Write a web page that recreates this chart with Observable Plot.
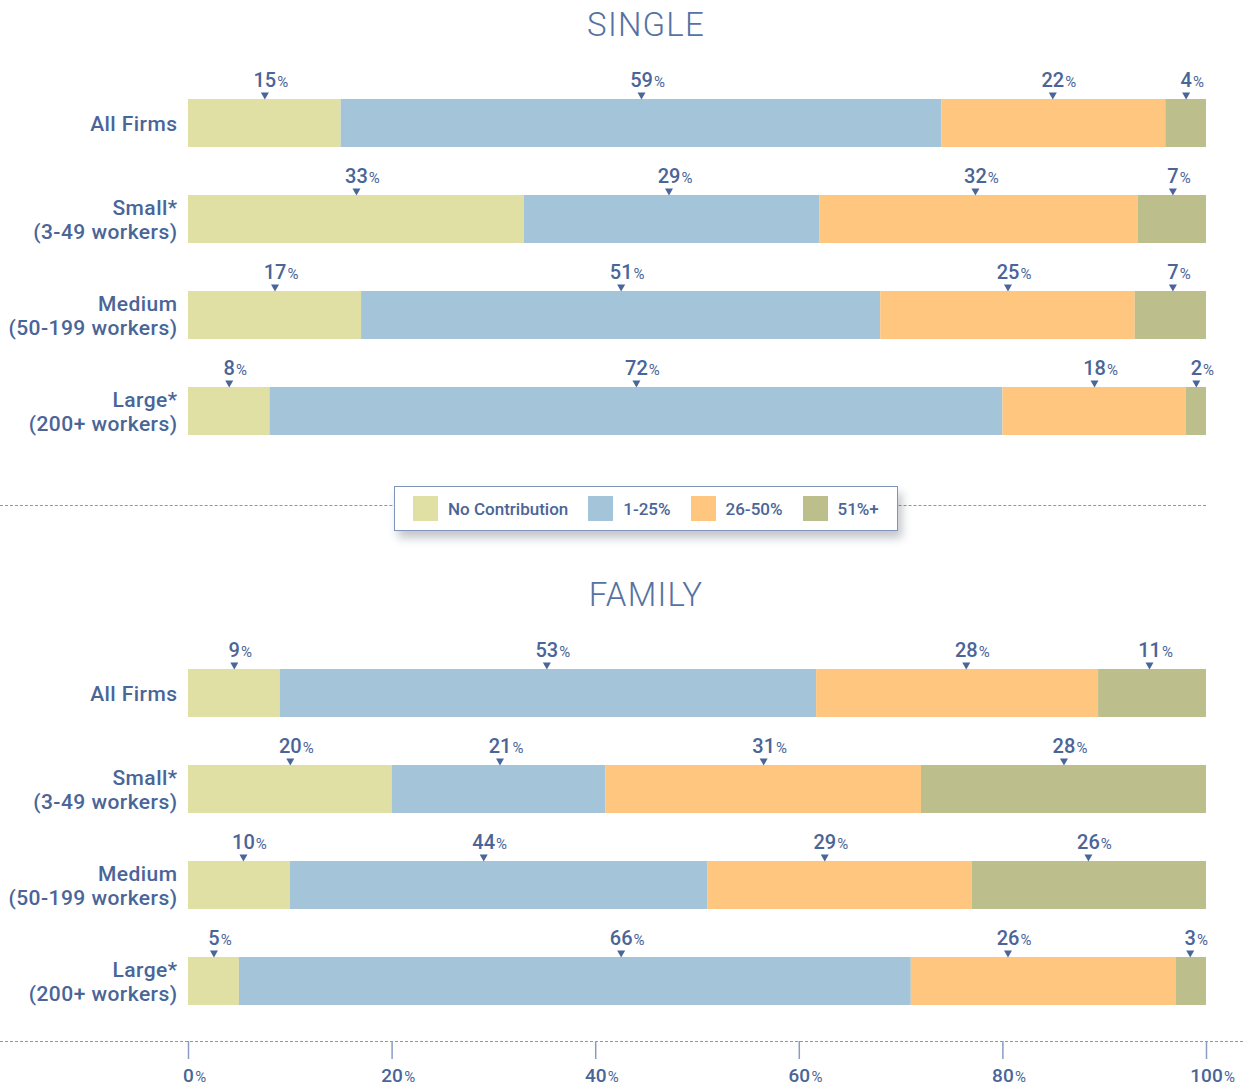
<!DOCTYPE html>
<html>
<head>
<meta charset="utf-8">
<script src="https://cdn.jsdelivr.net/npm/d3@7"></script>
<script src="https://cdn.jsdelivr.net/npm/@observablehq/plot@0.6"></script>
<style>
  body { margin: 0; background: #fff; font-family: Roboto, "Noto Sans", sans-serif; }
  #wrap { position: relative; width: 1243px; height: 1086px; overflow: hidden; background: #fff; }
  .panel { position: absolute; left: 0; }
  .panel g[aria-label="y-axis tick label"] text { letter-spacing: 0.45px; }
  .title { position: absolute; transform: translateX(-50%); font-size: 33px; font-weight: 300;
           letter-spacing: 1.2px; color: #5672a2; line-height: 33px; white-space: nowrap; }
  .dash { position: absolute; height: 0; border-top: 1px dashed #8797b8; }
  #legend { position: absolute; left: 394px; top: 486px; width: 504px; height: 45px; box-sizing: border-box;
            background: #fff; border: 1px solid #7f93bb; box-shadow: 4px 7px 9px rgba(40,50,70,0.28);
            display: flex; align-items: center; padding-left: 18px; }
  .item { display: flex; align-items: center; margin-right: 20px; }
  .sw { width: 25px; height: 25px; margin-right: 10px; }
  .lt { font-size: 17px; font-weight: 500; color: #4a6597; white-space: nowrap; }
</style>
</head>
<body>
<div id="wrap"></div>
<script>
// ---------- data ----------
const categories = ["All Firms", "Small*\n(3-49 workers)", "Medium\n(50-199 workers)", "Large*\n(200+ workers)"];
const levels = ["No Contribution", "1-25%", "26-50%", "51%+"];
const colors = ["#e1e0a4", "#a4c4da", "#fec67e", "#bcbf8c"];
const panels = ["SINGLE", "FAMILY"];
// segment widths as drawn (percent of workers), per category, in level order
const singleValues = [[15, 59, 22, 4], [33, 29, 31.3, 6.7], [17, 51, 25, 7], [8, 72, 18, 2]];
const familyValues = [[9, 52.7, 27.7, 10.6], [20, 21, 31, 28], [10, 41, 26, 23], [5, 66, 26, 3]];
// printed labels
const singleLabels = [[15, 59, 22, 4], [33, 29, 32, 7], [17, 51, 25, 7], [8, 72, 18, 2]];
const familyLabels = [[9, 53, 28, 11], [20, 21, 31, 28], [10, 44, 29, 26], [5, 66, 26, 3]];
// where each label's marker sits on the 0-100 axis
const singleMarkerAt = [[7.5, 44.5, 84.9, 98.0], [16.5, 47.2, 77.3, 96.7], [8.5, 42.5, 80.5, 96.7], [4.0, 44.0, 89.0, 99.0]];
const familyMarkerAt = [[4.5, 35.2, 76.4, 94.4], [10.0, 30.6, 56.5, 86.0], [5.4, 29.0, 62.5, 88.4], [2.5, 42.5, 80.5, 98.4]];
const xTicks = [0, 20, 40, 60, 80, 100];

const textColor = "#4a6597";
const tickColor = "#8a9cc2";
const W = 1243;

const downTri = {
  draw(ctx) { ctx.moveTo(-4, -3.5); ctx.lineTo(4, -3.5); ctx.lineTo(0, 3.5); ctx.closePath(); }
};

function buildRows(values, labels, at) {
  const rows = [];
  categories.forEach((c, i) => levels.forEach((l, j) =>
    rows.push({category: c, level: l, value: values[i][j], label: labels[i][j], at: at[i][j]})));
  return rows;
}

function panelPlot(values, labels, at, withAxis) {
  const rows = buildRows(values, labels, at);
  const labelStyle = {x: "at", y: "category", dy: -37, lineAnchor: "bottom", fill: textColor};
  const marks = [
    Plot.barX(rows, Plot.stackX({x: "value", y: "category", fill: "level", order: levels})),
    Plot.dot(rows, {x: "at", y: "category", symbol: downTri, r: 4, fill: textColor, stroke: null, dy: -27.5}),
    Plot.text(rows, {text: d => String(d.label), fontSize: 20, fontWeight: 500, ...labelStyle}),
    ...[1, 2, 3].map(n => Plot.text(rows.filter(d => String(d.label).length === n),
      {text: () => "%", textAnchor: "start", dx: n * 5.6 + 1.2, fontSize: 15, ...labelStyle})),
    Plot.axisY({tickSize: 0, tickPadding: 11, fontSize: 21, fontWeight: 500, lineHeight: 1.15,
                color: textColor, label: null})
  ];
  if (withAxis) {
    marks.push(
      Plot.axisX({ticks: xTicks, tickSize: 18, tickPadding: 9, stroke: tickColor, strokeWidth: 1.5,
                  fill: textColor, fontSize: 19, fontWeight: 500, tickFormat: d => String(d), label: null}),
      ...[1, 2, 3].map(n => Plot.text(xTicks.filter(t => String(t).length === n), {
        x: d => d, text: () => "%", frameAnchor: "bottom", lineAnchor: "bottom", dy: 40.5,
        dx: n * 5.3 + 1.5, textAnchor: "start", fontSize: 15, fill: textColor}))
    );
  }
  return Plot.plot({
    width: W,
    height: withAxis ? 516 : 470,
    marginLeft: 188,
    marginRight: 37,
    marginTop: 75,
    marginBottom: withAxis ? 45 : 11,
    style: {fontFamily: "Roboto, 'Noto Sans', sans-serif", background: "transparent", overflow: "visible"},
    x: {domain: [0, 100], axis: withAxis ? undefined : null},
    y: {domain: categories, paddingInner: 0.5, paddingOuter: 0.25, insetBottom: withAxis ? 12 : 0},
    color: {domain: levels, range: colors},
    marks
  });
}

const wrap = document.getElementById("wrap");

// dashed separators
const mid = document.createElement("div");
mid.className = "dash"; mid.style.left = "0px"; mid.style.width = "1206px"; mid.style.top = "505px";
wrap.appendChild(mid);
const bot = document.createElement("div");
bot.className = "dash"; bot.style.left = "0px"; bot.style.width = "1243px"; bot.style.top = "1041px";
wrap.appendChild(bot);

// panels
const p1 = panelPlot(singleValues, singleLabels, singleMarkerAt, false);
p1.classList.add("panel"); p1.style.top = "0px";
wrap.appendChild(p1);
const p2 = panelPlot(familyValues, familyLabels, familyMarkerAt, true);
p2.classList.add("panel"); p2.style.top = "570px";
wrap.appendChild(p2);

// titles
[[panels[0], 8], [panels[1], 578]].forEach(([t, top]) => {
  const d = document.createElement("div");
  d.className = "title"; d.textContent = t;
  d.style.left = "646px"; d.style.top = top + "px";
  wrap.appendChild(d);
});

// legend
const lg = document.createElement("div");
lg.id = "legend";
levels.forEach((l, i) => {
  const it = document.createElement("div"); it.className = "item";
  const sw = document.createElement("div"); sw.className = "sw"; sw.style.background = colors[i];
  const tx = document.createElement("span"); tx.className = "lt"; tx.textContent = l;
  it.appendChild(sw); it.appendChild(tx); lg.appendChild(it);
});
wrap.appendChild(lg);
</script>
</body>
</html>
